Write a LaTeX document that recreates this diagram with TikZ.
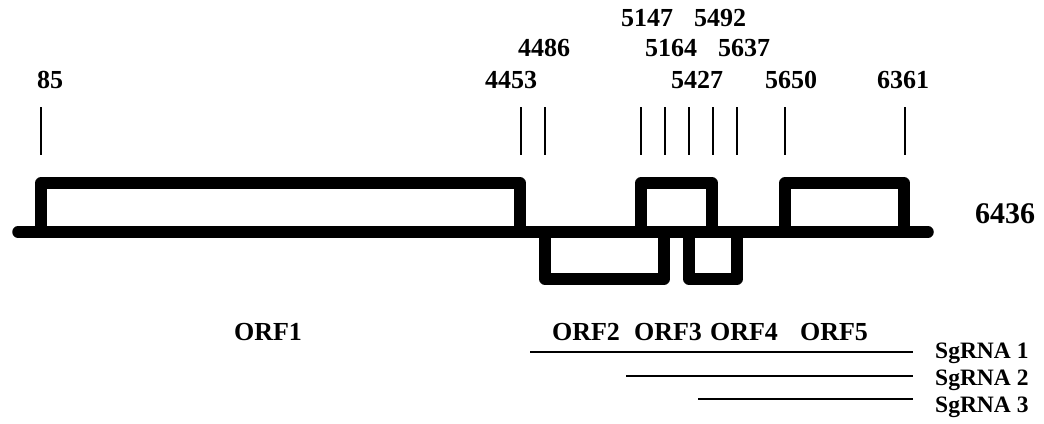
\documentclass[tikz,border=0pt]{standalone}
\usepackage{fontspec}
\setmainfont{Liberation Serif}
\begin{document}
\begin{tikzpicture}[x=1pt,y=-1pt,
  gene/.style={line width=11.5pt,line join=round,line cap=round},
  tick/.style={line width=1.6pt},
  sg/.style={line width=2pt},
  num/.style={inner sep=0pt,anchor=center,font=\fontsize{26}{30}\selectfont\bfseries},
  orf/.style={inner sep=0pt,anchor=center,font=\fontsize{26}{30}\selectfont\bfseries},
  sglab/.style={inner sep=0pt,anchor=base west,font=\fontsize{23.5}{28}\selectfont\bfseries}]
\useasboundingbox (0,0) rectangle (1044,423);
% genome baseline
\draw[gene] (18,232) -- (928,232);
% ORF boxes
\draw[gene] (41,232) -- (41,183) -- (520,183) -- (520,232);
\draw[gene] (545,232) -- (545,279) -- (664,279) -- (664,232);
\draw[gene] (641,232) -- (641,183) -- (712,183) -- (712,232);
\draw[gene] (689,232) -- (689,279) -- (737,279) -- (737,232);
\draw[gene] (785,232) -- (785,183) -- (904,183) -- (904,232);
% ticks
\foreach \x in {41,521,545,641,665,689,713,737,785,905}
  \draw[tick] (\x,107) -- (\x,155);
% position labels
\node[num] (p85) at (50,80) {85};
\node[num] (p4453) at (511,80) {4453};
\node[num] (p4486) at (544,48) {4486};
\node[num] (p5147) at (647,18) {5147};
\node[num] (p5164) at (671,48) {5164};
\node[num] (p5492) at (720,18) {5492};
\node[num] (p5637) at (744,48) {5637};
\node[num] (p5427) at (697,80) {5427};
\node[num] (p5650) at (791,80) {5650};
\node[num] (p6361) at (903,80) {6361};
\node[num,font=\fontsize{30}{34}\selectfont\bfseries] (p6436) at (1005,214) {6436};
% ORF labels
\node[orf] (orf1) at (268,332) {ORF1};
\node[orf] (orf2) at (586,332) {ORF2};
\node[orf] (orf3) at (668,332) {ORF3};
\node[orf] (orf4) at (744,332) {ORF4};
\node[orf] (orf5) at (834,332) {ORF5};
% subgenomic RNAs
\node[sglab] (sg1) at (935,358) {SgRNA 1};
\node[sglab] (sg2) at (935,385) {SgRNA 2};
\node[sglab] (sg3) at (935,412) {SgRNA 3};
\coordinate (s1) at (530,352);
\coordinate (s2) at (626,376);
\coordinate (s3) at (698,399);
\draw[sg] (s1) -- (913,352);
\draw[sg] (s2) -- (913,376);
\draw[sg] (s3) -- (913,399);
\end{tikzpicture}
\end{document}
